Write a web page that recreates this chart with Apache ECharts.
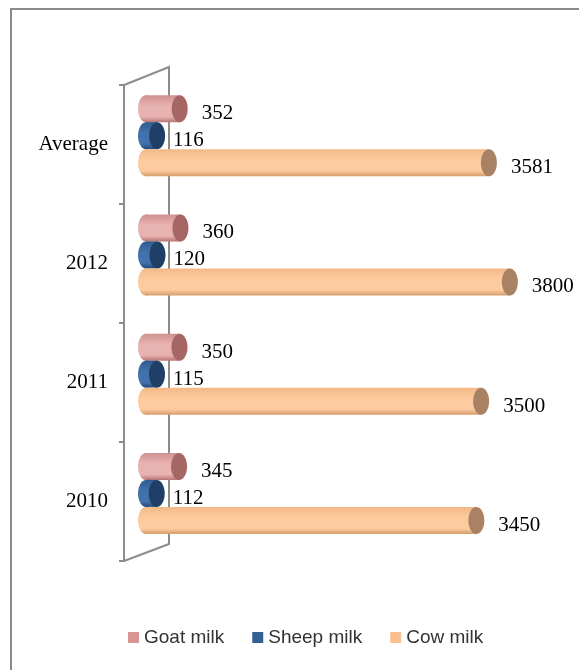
<!DOCTYPE html>
<html>
<head>
<meta charset="utf-8">
<script src="https://cdn.jsdelivr.net/npm/echarts@6/dist/echarts.min.js"></script>
<style>
  html, body { margin: 0; padding: 0; background: #fff; }
  #chart { width: 579px; height: 670px; }
</style>
</head>
<body>
<div id="chart"></div>
<script>
// categories, bottom to top
var years = ['2010', '2011', '2012', 'Average']
var goatMilk = [345, 350, 360, 352]
var sheepMilk = [112, 115, 120, 116]
var cowMilk = [3450, 3500, 3800, 3581]

var chart = echarts.init(document.getElementById('chart'))

// colours: [body top, body mid, body bottom, end cap]
var styles = {
  'Goat milk': { c: ['#cf9190', '#e8b2b0', '#b87675', '#a56664'], off: -27, gap: 14 },
  'Sheep milk': { c: ['#2f5a8d', '#4272ab', '#24497a', '#203f66'], off: 0, gap: 8 },
  'Cow milk': { c: ['#f3b987', '#fdcb9f', '#d69d6e', '#a88262'], off: 27, gap: 14 }
}

function cylinder (name) {
  var st = styles[name]
  return function (params, api) {
    var v = api.value(0)
    var p0 = api.coord([0, api.value(1)])
    var p1 = api.coord([v, api.value(1)])
    var h = 27
    var cy = p0[1] + st.off
    var rx = 8
    var grad = new echarts.graphic.LinearGradient(0, 0, 0, 1, [
      { offset: 0, color: st.c[0] },
      { offset: 0.4, color: st.c[1] },
      { offset: 0.8, color: st.c[1] },
      { offset: 1, color: st.c[2] }
    ])
    return {
      type: 'group',
      children: [
        { type: 'ellipse', shape: { cx: p0[0], cy: cy, rx: rx, ry: h / 2 }, style: { fill: grad } },
        { type: 'rect', shape: { x: p0[0], y: cy - h / 2, width: p1[0] - p0[0], height: h }, style: { fill: grad } },
        { type: 'ellipse', shape: { cx: p1[0], cy: cy, rx: rx, ry: h / 2 }, style: { fill: st.c[3] } },
        {
          type: 'text',
          x: p1[0] + rx + st.gap,
          y: cy + 5,
          style: {
            text: String(v),
            fill: '#000',
            font: '21px "Liberation Serif", "Times New Roman", serif',
            verticalAlign: 'middle',
            align: 'left'
          }
        }
      ]
    }
  }
}

function makeSeries (name, values) {
  return {
    name: name,
    type: 'custom',
    xAxisIndex: 0,
    yAxisIndex: 0,
    renderItem: cylinder(name),
    encode: { x: 0, y: 1 },
    data: values.map(function (v, i) { return [v, i] }),
    itemStyle: { color: styles[name].c[1] },
    z: 3
  }
}

var wall = '#8c8c8c'

var option = {
  backgroundColor: '#fff',
  animation: false,
  legend: {
    left: 128,
    top: 628,
    padding: 0,
    itemWidth: 11,
    itemHeight: 11,
    itemGap: 28,
    icon: 'rect',
    textStyle: { fontFamily: '"Liberation Sans", Arial, sans-serif', fontSize: 19, color: '#333' },
    data: [
      { name: 'Goat milk', itemStyle: { color: '#d99694' } },
      { name: 'Sheep milk', itemStyle: { color: '#366092' } },
      { name: 'Cow milk', itemStyle: { color: '#fac090' } }
    ]
  },
  grid: [
    { left: 146, right: 50, top: 76, bottom: 117 },
    { left: 124, width: 10, top: 85, bottom: 109 }
  ],
  xAxis: [
    { type: 'value', gridIndex: 0, min: 0, max: 4000, show: false },
    { type: 'value', gridIndex: 1, min: 0, max: 1, show: false }
  ],
  yAxis: [
    { type: 'category', gridIndex: 0, data: years, show: false },
    {
      type: 'category',
      gridIndex: 1,
      data: years,
      axisLine: { show: true, lineStyle: { color: wall, width: 2 } },
      axisTick: { show: true, length: 5, lineStyle: { color: wall, width: 2 } },
      axisLabel: {
        margin: 16,
        color: '#000',
        fontSize: 21,
        fontFamily: '"Liberation Serif", "Times New Roman", serif'
      },
      splitLine: { show: false }
    }
  ],
  graphic: [
    {
      type: 'rect',
      z: 0,
      shape: { x: 11, y: 9, width: 620, height: 700 },
      style: { fill: 'none', stroke: '#8a8a8a', lineWidth: 2 }
    },
    {
      type: 'polyline',
      z: 1,
      shape: { points: [[124, 85], [169, 67], [169, 544], [124, 561]] },
      style: { fill: 'none', stroke: wall, lineWidth: 2 }
    }
  ],
  series: [
    makeSeries('Goat milk', goatMilk),
    makeSeries('Sheep milk', sheepMilk),
    makeSeries('Cow milk', cowMilk)
  ]
}

chart.setOption(option)
</script>
</body>
</html>
